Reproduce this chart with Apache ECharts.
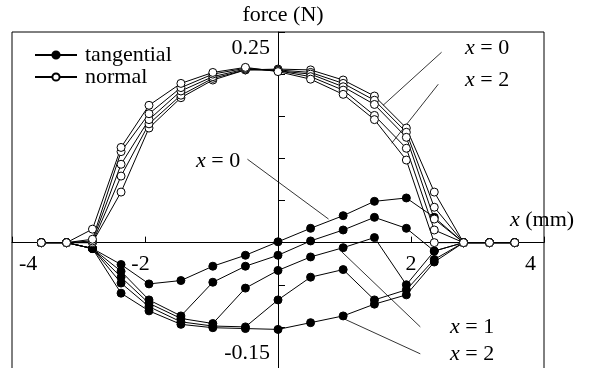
<!DOCTYPE html>
<html><head><meta charset="utf-8">
<script src="https://cdn.jsdelivr.net/npm/echarts@6/dist/echarts.min.js"></script>
<style>html,body{margin:0;padding:0;background:#fff}#c{width:589px;height:368px}</style>
</head><body><div id="c"></div>
<script>
// x positions (mm)
const xs = [-3.56,-3.18,-2.79,-2.36,-1.94,-1.46,-0.98,-0.49,0,0.49,0.98,1.45,1.93,2.35,2.79,3.18,3.56];
// normal force (N) for x = 0, 0.5, 1, 1.5, 2
const normal0  = [0,0,0,0.060,0.136,0.172,0.193,0.205,0.206,0.205,0.193,0.174,0.136,0.060,0,0,0];
const normal05 = [0,0,0,0.079,0.141,0.175,0.195,0.205,0.205,0.202,0.189,0.169,0.131,0.042,0,0,0];
const normal1  = [0,0,0.002,0.093,0.146,0.180,0.197,0.206,0.204,0.200,0.185,0.164,0.125,0.028,0,0,0];
const normal15 = [0,0,0.004,0.108,0.153,0.184,0.200,0.207,0.204,0.197,0.181,0.151,0.112,0.015,0,0,0];
const normal2  = [0,0,0.016,0.113,0.163,0.189,0.202,0.208,0.203,0.194,0.176,0.146,0.098,0,0,0,0];
// tangential force (N) for x = 0, 0.5, 1, 1.5, 2
const tang0  = [0,0,-0.007,-0.026,-0.049,-0.045,-0.028,-0.015,0.001,0.017,0.032,0.049,0.053,0.030,0,0,0];
const tang05 = [0,0,-0.007,-0.034,-0.068,-0.087,-0.047,-0.028,-0.015,0.002,0.015,0.030,0.017,-0.010,0,0,0];
const tang1  = [0,0,-0.007,-0.041,-0.072,-0.090,-0.096,-0.054,-0.033,-0.017,-0.006,0.006,-0.050,-0.010,0,0,0];
const tang15 = [0,0,-0.007,-0.048,-0.076,-0.094,-0.099,-0.100,-0.068,-0.041,-0.032,-0.068,-0.056,-0.020,0,0,0];
const tang2  = [0,0,-0.007,-0.060,-0.081,-0.097,-0.101,-0.102,-0.103,-0.095,-0.087,-0.073,-0.062,-0.023,0,0,0];
// leader lines (data coords) [from label, to curve]
const leaderN0 = [[2.46,0.226],[1.58,0.163]];
const leaderN2 = [[2.41,0.188],[1.71,0.118]];
const leaderT0 = [[-0.46,0.099],[0.76,0.028]];
const leaderT1 = [[2.14,-0.100],[0.96,-0.011]];
const leaderT2 = [[2.14,-0.132],[0.98,-0.090]];
// tick labels
const xTickValues = [-4,-2,2,4];
const xTickText = ['-4','-2','2','4'];
const yTickValues = [0.25,-0.15];
const yTickText = ['0.25','-0.15'];

const FONT = 'Liberation Serif, Times New Roman, serif';
const FS = 22;
const pair = arr => xs.map((x,i)=>[x,arr[i]]);
function tSeries(arr){return {name:'tangential',type:'line',data:pair(arr),symbol:'circle',symbolSize:8,showAllSymbol:true,z:2,
  lineStyle:{color:'#000',width:1},itemStyle:{color:'#000',borderColor:'#000',borderWidth:1}};}
function nSeries(arr){return {name:'normal',type:'line',data:pair(arr),symbol:'circle',symbolSize:8,showAllSymbol:true,z:3,
  lineStyle:{color:'#000',width:1},itemStyle:{color:'#fff',borderColor:'#000',borderWidth:1}};}
function leader(arr){return {name:'leader',type:'line',data:arr,symbol:'none',silent:true,z:1,lineStyle:{color:'#000',width:0.8}};}

const chart = echarts.init(document.getElementById('c'),null,{renderer:'canvas'});
const txt = (t,x,y,align)=>({type:'text',x:x,y:y,z:10,style:{text:t,font:FS+'px '+FONT,fill:'#000',
  textAlign:align||'left',textVerticalAlign:'middle',rich:{i:{fontStyle:'italic',fontSize:FS,fontFamily:FONT}}}});
chart.setOption({
  animation:false,
  grid:{left:12,right:45,top:32,bottom:-1,show:true,borderColor:'#000',borderWidth:1,backgroundColor:'transparent',
    containLabel:false,outerBoundsMode:'none'},
  legend:{data:['tangential','normal'],orient:'vertical',left:29,top:39,itemWidth:42,itemHeight:9,itemGap:0,
    textStyle:{fontFamily:FONT,fontSize:FS,color:'#000',padding:[0,0,0,3]}},
  xAxis:{type:'value',min:-4,max:4,interval:2,
    axisLine:{onZero:true,lineStyle:{color:'#000',width:1}},
    axisTick:{inside:true,length:6,lineStyle:{color:'#000'}},
    splitLine:{show:false},axisLabel:{show:false}},
  yAxis:{type:'value',min:-0.15,max:0.25,interval:0.05,
    axisLine:{onZero:true,lineStyle:{color:'#000',width:1}},
    axisTick:{inside:true,length:7,lineStyle:{color:'#000'}},
    splitLine:{show:false},axisLabel:{show:false}},
  series:[
    leader(leaderN0),leader(leaderN2),leader(leaderT0),leader(leaderT1),leader(leaderT2),
    tSeries(tang0),tSeries(tang05),tSeries(tang1),tSeries(tang15),tSeries(tang2),
    nSeries(normal0),nSeries(normal05),nSeries(normal1),nSeries(normal15),nSeries(normal2)
  ]
});
// tick labels positioned through the axes' own scales
const P = (x,y)=>chart.convertToPixel({gridIndex:0},[x,y]);
const g = [];
const xShift = [7,-4.5,0,-8], xAlign = ['left','center','center','right'];
xTickValues.forEach((v,i)=>{const p=P(v,0);g.push(txt(xTickText[i],p[0]+xShift[i],p[1]+22,xAlign[i]));});
const yShift = [16,-16];
yTickValues.forEach((v,i)=>{const p=P(0,v);g.push(txt(yTickText[i],p[0]-8,p[1]+yShift[i],'right'));});
const o = P(0,0);
g.push(txt('force (N)',o[0]+5,15,'center'));
g.push(txt('{i|x} (mm)',510,220));
g.push(txt('{i|x} = 0',465,48));
g.push(txt('{i|x} = 2',465,80));
g.push(txt('{i|x} = 0',196,161));
g.push(txt('{i|x} = 1',450,327));
g.push(txt('{i|x} = 2',450,354));
chart.setOption({graphic:g});
</script></body></html>
